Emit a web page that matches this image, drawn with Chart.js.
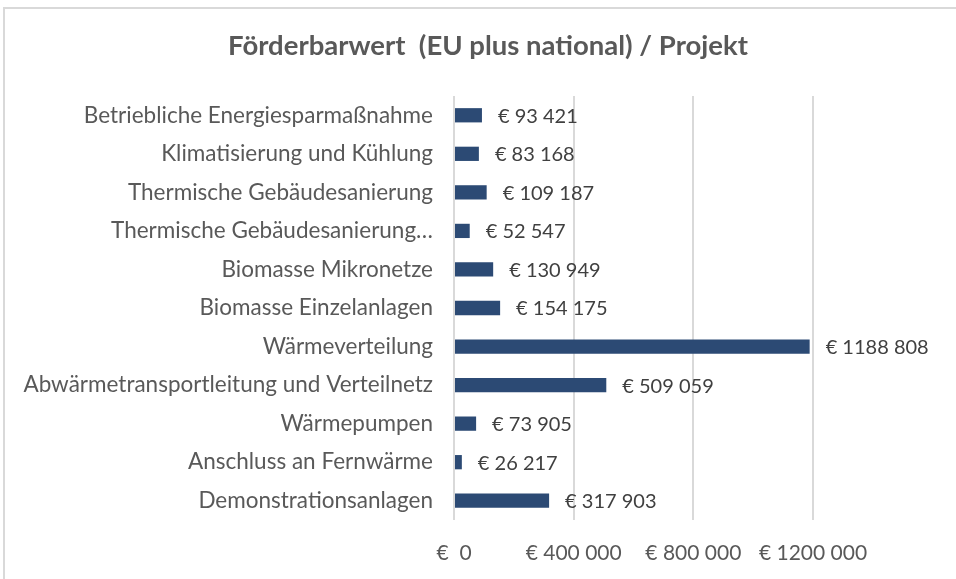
<!doctype html>
<html lang="de">
  <head>
    <meta charset="utf-8">
    <title>Förderbarwert / Projekt</title>
    <style>
      * {
        margin: 0;
        padding: 0;
      }
      body {
        width: 956px;
        height: 579px;
        background: white;
        overflow: hidden;
        position: relative;
      }
      .frame {
        position: absolute;
        left: 3px;
        top: 7px;
        width: 960px;
        height: 580px;
        border-left: 2px solid #d9d9d9;
        border-top: 2px solid #d9d9d9;
        pointer-events: none;
      }
      .chartBox {
        position: absolute;
        left: 0;
        top: 0;
        width: 956px;
        height: 579px;
      }
    </style>
  </head>
  <body>
    <div class="chartBox">
      <canvas id="myChart"></canvas>
    </div>
    <div class="frame"></div>
    <script src="https://cdn.jsdelivr.net/npm/chart.js"></script>
    <script>
    // data
    const categories = [
      'Betriebliche Energiesparmaßnahme',
      'Klimatisierung und Kühlung',
      'Thermische Gebäudesanierung',
      'Thermische Gebäudesanierung…',
      'Biomasse Mikronetze',
      'Biomasse Einzelanlagen',
      'Wärmeverteilung',
      'Abwärmetransportleitung und Verteilnetz',
      'Wärmepumpen',
      'Anschluss an Fernwärme',
      'Demonstrationsanlagen'
    ];
    const values = [93421, 83168, 109187, 52547, 130949, 154175, 1188808, 509059, 73905, 26217, 317903];
    const tickValues = [0, 400000, 800000, 1200000];
    const titleText = 'Förderbarwert  (EU plus national) / Projekt';

    const fontFamily = 'Lato, "Open Sans", sans-serif';

    // "€ 1188 808" style, like the Excel number format
    function euro(v) {
      if (v < 1000) return '€  ' + v;
      const rest = String(v % 1000).padStart(3, '0');
      return '€ ' + Math.floor(v / 1000) + ' ' + rest;
    }

    // value labels at the end of each bar
    const barLabels = {
      id: 'barLabels',
      afterDatasetsDraw(chart) {
        const { ctx } = chart;
        const meta = chart.getDatasetMeta(0);
        ctx.save();
        ctx.font = '20px ' + fontFamily;
        ctx.fillStyle = '#404040';
        ctx.textAlign = 'left';
        ctx.textBaseline = 'middle';
        meta.data.forEach((bar, i) => {
          ctx.fillText(euro(values[i]), bar.x + 16, bar.y + 1);
        });
        ctx.restore();
      }
    };

    // title centred over the whole picture, not the padded layout box
    const pageTitle = {
      id: 'pageTitle',
      afterDraw(chart) {
        const { ctx } = chart;
        ctx.save();
        ctx.font = 'bold 27.5px ' + fontFamily;
        ctx.fillStyle = '#595959';
        ctx.textAlign = 'center';
        ctx.textBaseline = 'middle';
        ctx.fillText(titleText, 488, 46);
        ctx.restore();
      }
    };

    const config = {
      type: 'bar',
      data: {
        labels: categories,
        datasets: [{
          data: values,
          backgroundColor: '#2c4a74',
          borderWidth: 0,
          barPercentage: 0.37,
          categoryPercentage: 1
        }]
      },
      options: {
        indexAxis: 'y',
        responsive: false,
        animation: false,
        layout: {
          padding: { left: 0, right: 143, top: 96, bottom: 0 }
        },
        scales: {
          x: {
            min: 0,
            max: 1200000,
            afterBuildTicks: (scale) => {
              scale.ticks = tickValues.map(v => ({ value: v }));
            },
            afterFit: (scale) => { scale.height = 59; },
            grid: {
              color: '#d9d9d9',
              lineWidth: 2,
              drawTicks: false
            },
            border: { display: false },
            ticks: {
              padding: 21,
              color: '#595959',
              font: { family: fontFamily, size: 21 },
              callback: (v) => euro(v)
            }
          },
          y: {
            afterFit: (scale) => { scale.width = 454; },
            grid: { display: false },
            border: { display: false },
            ticks: {
              padding: 13,
              color: '#595959',
              font: { family: fontFamily, size: 22.5 }
            }
          }
        },
        plugins: {
          legend: { display: false },
          tooltip: { enabled: false },
          title: { display: false }
        }
      },
      plugins: [barLabels, pageTitle]
    };

    const canvas = document.getElementById('myChart');
    canvas.width = 956;
    canvas.height = 579;
    const myChart = new Chart(canvas, config);
    </script>
  </body>
</html>
